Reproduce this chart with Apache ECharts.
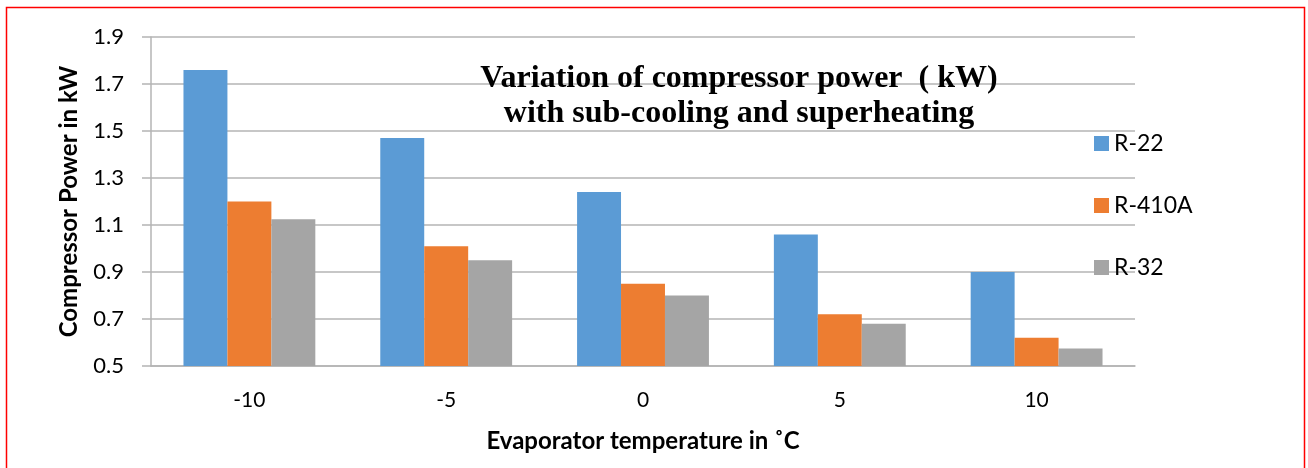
<!DOCTYPE html>
<html>
<head>
<meta charset="utf-8">
<script src="https://cdn.jsdelivr.net/npm/echarts@6/dist/echarts.min.js"></script>
<style>
html, body { margin: 0; padding: 0; background: #fff; }
#chart { width: 1308px; height: 468px; }
</style>
</head>
<body>
<div id="chart"></div>
<script>
// data
var temps = ['-10', '-5', '0', '5', '10']
var r22 = [1.76, 1.47, 1.24, 1.06, 0.90]
var r410a = [1.20, 1.01, 0.85, 0.72, 0.62]
var r32 = [1.125, 0.95, 0.80, 0.68, 0.575]

var font = 'Lato, "Open Sans", sans-serif'
var gridColor = '#b4b4b4'

var chart = echarts.init(document.getElementById('chart'))
var option = {
    color: ['#5b9bd5', '#ed7d31', '#a5a5a5'],
    animation: false,
    title: {
        text: 'Variation of compressor power  ( kW)\nwith sub-cooling and superheating',
        left: 734,
        top: 56,
        textAlign: 'center',
        textStyle: {
            fontFamily: '"Liberation Serif", "Times New Roman", serif',
            fontWeight: 'bold',
            fontSize: 32,
            lineHeight: 35,
            color: '#000'
        }
    },
    legend: {
        orient: 'vertical',
        left: 1089,
        top: 127,
        itemWidth: 15,
        itemHeight: 15,
        itemGap: 39,
        icon: 'rect',
        textStyle: { fontFamily: font, fontSize: 23, color: '#000' },
        data: ['R-22', 'R-410A', 'R-32']
    },
    grid: { left: 151, right: 173, top: 37, bottom: 102 },
    xAxis: {
        type: 'category',
        data: temps,
        name: 'Evaporator temperature in ˚C',
        nameLocation: 'middle',
        nameGap: 63,
        nameTextStyle: { fontFamily: font, fontSize: 24, fontWeight: 'bold', color: '#000' },
        axisLine: { lineStyle: { color: gridColor, width: 1.5 } },
        axisTick: { length: 8, lineStyle: { color: gridColor, width: 1.5 } },
        axisLabel: { fontFamily: font, fontSize: 21, color: '#000', margin: 24 }
    },
    yAxis: {
        type: 'value',
        min: 0.5,
        max: 1.9,
        interval: 0.2,
        name: 'Compressor Power in kW',
        nameLocation: 'middle',
        nameGap: 70,
        nameTextStyle: { fontFamily: font, fontSize: 24, fontWeight: 'bold', color: '#000' },
        axisLine: { show: true, lineStyle: { color: gridColor, width: 1.5 } },
        axisTick: { show: true, length: 9, lineStyle: { color: gridColor, width: 1.5 } },
        axisLabel: {
            fontFamily: font, fontSize: 22, color: '#000', margin: 27,
            formatter: function (v) { return v.toFixed(1) }
        },
        splitLine: { lineStyle: { color: gridColor, width: 1.5 } }
    },
    series: [
        { name: 'R-22', type: 'bar', data: r22, barGap: '0%', barCategoryGap: '33%' },
        { name: 'R-410A', type: 'bar', data: r410a, barGap: '0%', barCategoryGap: '33%' },
        { name: 'R-32', type: 'bar', data: r32, barGap: '0%', barCategoryGap: '33%' }
    ],
    graphic: [{
        type: 'rect',
        shape: { x: 6.5, y: 7.5, width: 1298, height: 470 },
        style: { fill: 'none', stroke: '#ff0000', lineWidth: 1.5 },
        silent: true
    }]
}
chart.setOption(option)
</script>
</body>
</html>
